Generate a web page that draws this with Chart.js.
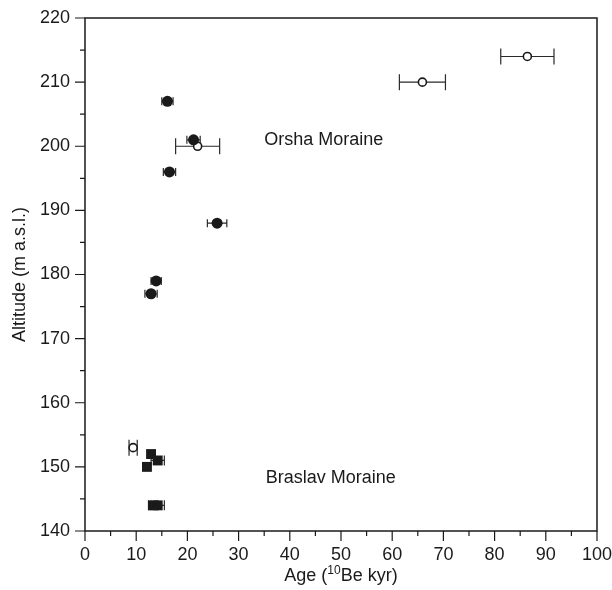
<!DOCTYPE html>
<html>
<head>
<meta charset="utf-8">
<script src="https://cdn.jsdelivr.net/npm/chart.js@4.4.0/dist/chart.umd.min.js"></script>
<style>
  html, body { margin: 0; padding: 0; background: #fff; }
</style>
</head>
<body>
<canvas id="myChart" width="612" height="590"></canvas>
<script>
// Orsha moraine samples (filled circles)
const orshaAge = [16.1, 21.2, 16.5, 25.8, 13.9, 12.9]
const orshaAlt = [207, 201, 196, 188, 179, 177]
const orshaErr = [1.1, 1.3, 1.2, 1.9, 1.0, 1.2]
// outliers (open circles)
const outAge = [22.0, 65.9, 86.4, 9.4]
const outAlt = [200, 210, 214, 153]
const outErr = [4.3, 4.5, 5.2, 0.8]
// Braslav moraine samples (filled squares)
const braslavAge = [12.9, 14.2, 12.1, 13.3, 14.2]
const braslavAlt = [152, 151, 150, 144, 144]
const braslavErr = [0, 1.3, 0, 0.9, 1.3]

const xTicks = [0, 10, 20, 30, 40, 50, 60, 70, 80, 90, 100]
const yTicks = [140, 150, 160, 170, 180, 190, 200, 210, 220]
const notes = [
    { text: 'Orsha Moraine', x: 35.0, y: 201 },
    { text: 'Braslav Moraine', x: 35.3, y: 148.3 }
]

const FONT = '"Liberation Sans", Arial, sans-serif'
const INK = '#1a1a1a'

function toPoints(xs, ys) {
    return xs.map((x, i) => ({ x: x, y: ys[i] }))
}

const errorBars = {
    id: 'errorBars',
    beforeDatasetsDraw(chart) {
        const ctx = chart.ctx
        const xs = chart.scales.x, ys = chart.scales.y
        ctx.save()
        ctx.strokeStyle = '#2a2a2a'
        ctx.lineWidth = 1.2
        chart.data.datasets.forEach(ds => {
            ds.data.forEach((p, i) => {
                const e = ds.errors[i]
                if (!e) return
                const py = ys.getPixelForValue(p.y)
                const x1 = xs.getPixelForValue(p.x - e)
                const x2 = xs.getPixelForValue(p.x + e)
                const c = ds.capSize
                ctx.beginPath()
                ctx.moveTo(x1, py); ctx.lineTo(x2, py)
                ctx.moveTo(x1, py - c); ctx.lineTo(x1, py + c)
                ctx.moveTo(x2, py - c); ctx.lineTo(x2, py + c)
                ctx.stroke()
            })
        })
        ctx.restore()
    },
    afterDraw(chart) {
        const ctx = chart.ctx
        const a = chart.chartArea
        const xs = chart.scales.x, ys = chart.scales.y
        ctx.save()
        ctx.strokeStyle = INK
        ctx.lineWidth = 1.5
        ctx.strokeRect(a.left, a.top, a.right - a.left, a.bottom - a.top)
        ctx.lineWidth = 1.2
        ctx.beginPath()
        for (let v = 0; v <= 100; v += 5) {
            const px = xs.getPixelForValue(v)
            const len = v % 10 === 0 ? 10 : 5
            ctx.moveTo(px, a.bottom); ctx.lineTo(px, a.bottom + len)
        }
        for (let v = 140; v <= 220; v += 5) {
            const py = ys.getPixelForValue(v)
            const len = v % 10 === 0 ? 10 : 5
            ctx.moveTo(a.left, py); ctx.lineTo(a.left - len, py)
        }
        ctx.stroke()

        // labels inside the plot
        ctx.fillStyle = INK
        ctx.font = '18px ' + FONT
        ctx.textAlign = 'left'
        ctx.textBaseline = 'middle'
        notes.forEach(n => {
            ctx.fillText(n.text, xs.getPixelForValue(n.x), ys.getPixelForValue(n.y))
        })

        // x axis title with superscript
        const cx = (a.left + a.right) / 2
        const base = 581
        const big = '18px ' + FONT, small = '12px ' + FONT
        const parts = [['Age (', big, 0], ['10', small, -7], ['Be kyr)', big, 0]]
        let w = 0
        parts.forEach(p => { ctx.font = p[1]; w += ctx.measureText(p[0]).width })
        let x = cx - w / 2
        ctx.textBaseline = 'alphabetic'
        parts.forEach(p => {
            ctx.font = p[1]
            ctx.fillText(p[0], x, base + p[2])
            x += ctx.measureText(p[0]).width
        })

        // y axis title
        ctx.font = '18px ' + FONT
        ctx.translate(20, (a.top + a.bottom) / 2)
        ctx.rotate(-Math.PI / 2)
        ctx.textAlign = 'center'
        ctx.textBaseline = 'middle'
        ctx.fillText('Altitude (m a.s.l.)', 0, 0)
        ctx.restore()
    }
}

var ctx = document.getElementById('myChart').getContext('2d')
var myChart = new Chart(ctx, {
    type: 'scatter',
    data: {
        datasets: [{
            label: 'Orsha',
            data: toPoints(orshaAge, orshaAlt),
            errors: orshaErr,
            capSize: 4,
            pointStyle: 'circle',
            pointRadius: 5.5,
            backgroundColor: INK,
            borderColor: INK,
            borderWidth: 0
        }, {
            label: 'Outliers',
            data: toPoints(outAge, outAlt),
            errors: outErr,
            capSize: 8,
            pointStyle: 'circle',
            pointRadius: 4,
            backgroundColor: '#fff',
            borderColor: INK,
            borderWidth: 1.6
        }, {
            label: 'Braslav',
            data: toPoints(braslavAge, braslavAlt),
            errors: braslavErr,
            capSize: 5,
            pointStyle: 'rect',
            pointRadius: 7,
            backgroundColor: INK,
            borderColor: INK,
            borderWidth: 0
        }]
    },
    options: {
        responsive: false,
        animation: false,
        layout: { padding: { top: 18, right: 15, left: 0, bottom: 0 } },
        plugins: { legend: { display: false }, tooltip: { enabled: false } },
        scales: {
            x: {
                min: 0, max: 100,
                afterBuildTicks: s => { s.ticks = xTicks.map(v => ({ value: v })) },
                afterFit: s => { s.height = 59; s.paddingLeft = 0; s.paddingRight = 0 },
                grid: { display: false, drawTicks: false },
                border: { display: false },
                ticks: { padding: 13, color: INK, font: { family: FONT, size: 18 }, maxRotation: 0, autoSkip: false }
            },
            y: {
                min: 140, max: 220,
                afterBuildTicks: s => { s.ticks = yTicks.map(v => ({ value: v })) },
                afterFit: s => { s.width = 85; s.paddingTop = 0; s.paddingBottom = 0 },
                grid: { display: false, drawTicks: false },
                border: { display: false },
                ticks: { padding: 15, color: INK, font: { family: FONT, size: 18 }, autoSkip: false }
            }
        }
    },
    plugins: [errorBars]
})
</script>
</body>
</html>
